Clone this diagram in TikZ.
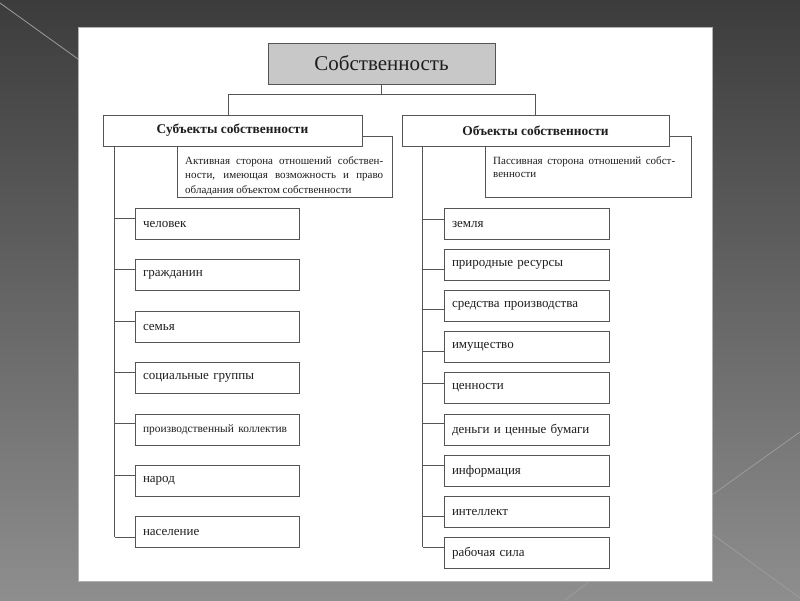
\documentclass[tikz,border=0pt]{standalone}
\usepackage{fontspec}
\setmainfont{Liberation Serif}
\usepackage{xcolor}
\definecolor{cLine}{HTML}{555555}
\definecolor{cText}{HTML}{1E1E1E}
\definecolor{cRoot}{HTML}{C8C8C8}
\definecolor{cBgTop}{HTML}{3C3C3C}
\definecolor{cBgBot}{HTML}{8E8E8E}
\definecolor{cDeco}{HTML}{9C9C9C}
\usetikzlibrary{positioning,calc}
\tikzset{
  node-box/.style={draw=cLine,line width=0.9pt,fill=white,inner sep=0pt,
    minimum height=31pt,text=cText},
  node-root/.style={node-box,fill=cRoot,minimum width=227pt,minimum height=41pt,
    font=\fontsize{21}{24}\selectfont},
  node-head/.style={node-box,minimum height=31pt,font=\bfseries\fontsize{13.4}{15}\selectfont},
  node-note/.style={node-box,minimum height=61pt,anchor=north west},
  note-text/.style={inner sep=0pt,anchor=north west,align=left,text=cText},
  node-item/.style={node-box,inner xsep=8pt,align=left,
    font=\fontsize{13}{15}\selectfont},
  link/.style={draw=cLine,line width=0.9pt},
  deco/.style={draw=cDeco,line width=0.8pt},
}

\begin{document}
\begin{tikzpicture}[x=1pt,y=-1pt]
  \useasboundingbox (0,0) rectangle (800,600);
  % slide background
  \shade[top color=cBgTop,bottom color=cBgBot] (0,0) rectangle (800,600);
  \draw[deco] (0,3) -- (78,59);
  \draw[deco] (800,432) -- (712,495);
  \draw[deco] (712,534) -- (800,598);
  \draw[deco] (565,600) -- (590,581);
  \draw[fill=white,draw=gray!60,line width=0.6pt] (78,27) rectangle (712,581);

  % top
  \node[node-root] (root) at (381.5,63.5) {Собственность};

  % notes go under the headers
  \node[node-note,minimum width=215pt] (subnote) at (177,136) {};
  \node[note-text,font=\fontsize{11}{14.5}\selectfont] (subnote-txt)
    at ([xshift=8pt,yshift=-20pt]subnote.north west)
    {\makebox[198pt][s]{Активная сторона отношений собствен-}\\
     \makebox[198pt][s]{ности, имеющая возможность и право}\\
     обладания объектом собственности};
  \node[node-note,minimum width=206pt] (objnote) at (485,136) {};
  \node[note-text,font=\fontsize{11}{13}\selectfont] (objnote-txt)
    at ([xshift=8pt,yshift=-20pt]objnote.north west)
    {\makebox[182pt][s]{Пассивная сторона отношений собст-}\\
     венности};

  \node[node-head,minimum width=259pt] (sub) at (232.5,130.5) {Субъекты собственности};
  \node[node-head,minimum width=267pt] (obj) at (535.5,130.5) {Объекты собственности};

  \draw[link] (root.south) -- ++(0,10) coordinate (hub);
  \draw[link] ([xshift=-4.5pt]sub.north) |- (hub) -| (obj.north);

  % subjects
  \coordinate (subspine) at ([xshift=12pt]sub.south west);
  \foreach \i/\top/\off/\txt in {1/208/10/человек, 2/259/10/гражданин,
      3/311/10/семья, 4/362/10/социальные группы,
      5/414/9/{\fontsize{11.4}{13}\selectfont производственный коллектив},
      6/465/10/народ, 7/516/21/население}{
    \node[node-item,text width=148pt] (s\i) at (217,{\top+16}) {\txt};
    \coordinate (sj\i) at ([yshift={(16-\off)*1pt}]s\i.west);
    \draw[link] (sj\i) -- (sj\i -| subspine);
  }
  \draw[link] (subspine) -- (sj7 -| subspine);

  % objects
  \coordinate (objspine) at ([xshift=21pt]obj.south west);
  \foreach \i/\top/\off/\txt in {1/208/11/земля, 2/249/20/природные ресурсы,
      3/290/19/средства производства, 4/331/20/имущество, 5/372/11/ценности,
      6/414/9/деньги и ценные бумаги, 7/455/10/информация,
      8/496/20/интеллект, 9/537/10/рабочая сила}{
    \node[node-item,text width=149pt] (o\i) at (526.5,{\top+16}) {\txt};
    \coordinate (oj\i) at ([yshift={(16-\off)*1pt}]o\i.west);
    \draw[link] (oj\i) -- (oj\i -| objspine);
  }
  \draw[link] (objspine) -- (oj9 -| objspine);
\end{tikzpicture}
\end{document}
